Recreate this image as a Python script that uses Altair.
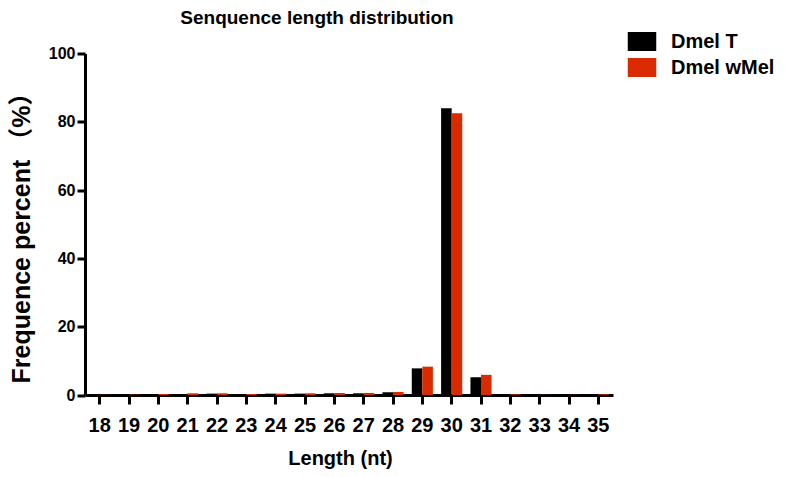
import altair as alt
import pandas as pd

lengths = [str(v) for v in range(18, 36)]
dmel_t = [0.05, 0.1, 0.2, 0.3, 0.4, 0.3, 0.4, 0.4, 0.5, 0.5, 0.8, 7.8, 84.0, 5.2, 0.3, 0.1, 0.05, 0.05]
dmel_wmel = [0.05, 0.1, 0.3, 0.5, 0.5, 0.3, 0.4, 0.5, 0.6, 0.6, 0.9, 8.3, 82.5, 5.9, 0.2, 0.05, 0.05, 0.2]
series = ["Dmel T", "Dmel wMel"]
colors = ["#000000", "#D92A00"]

rows = []
for i, L in enumerate(lengths):
    rows.append({"Length": L, "Group": series[0], "Percent": dmel_t[i]})
    rows.append({"Length": L, "Group": series[1], "Percent": dmel_wmel[i]})
df = pd.DataFrame(rows)

FONT = "Liberation Sans, Arial, Noto Sans CJK SC"

chart = alt.Chart(df).mark_bar().encode(
    x=alt.X("Length:N", sort=lengths,
            scale=alt.Scale(paddingInner=0.28, paddingOuter=0.14),
            axis=alt.Axis(title="Length (nt)", labelAngle=0, labelFontSize=20,
                          labelFontWeight="bold", labelFont=FONT, labelColor="black",
                          labelPadding=11, labelOverlap=False,
                          tickSize=9, tickWidth=3, tickColor="black",
                          domainWidth=3, domainColor="black",
                          titleFontSize=20, titleFontWeight="bold", titleFont=FONT,
                          titleColor="black", titleX=255, titleY=69,
                          titleBaseline="alphabetic", titleAlign="center")),
    xOffset=alt.XOffset("Group:N", sort=series,
                        scale=alt.Scale(paddingInner=0, paddingOuter=0)),
    y=alt.Y("Percent:Q", scale=alt.Scale(domain=[0, 100], nice=False),
            axis=alt.Axis(title="Frequence percent （%）", values=[0, 20, 40, 60, 80, 100],
                          grid=False, labelFontSize=16, labelFontWeight="bold",
                          labelFont=FONT, labelColor="black", labelPadding=2,
                          tickSize=8, tickWidth=3, tickColor="black",
                          domainWidth=3, domainColor="black",
                          titleFontSize=25, titleFontWeight="bold", titleFont=FONT,
                          titleColor="black", titleAngle=270, titleX=-64, titleY=178,
                          titleAlign="center", titleBaseline="middle")),
    color=alt.Color("Group:N", sort=series,
                    scale=alt.Scale(domain=series, range=colors),
                    legend=alt.Legend(title=None, orient="none", legendX=547, legendY=-22,
                                      symbolType="M-1.5,-1L1.5,-1L1.5,1L-1.5,1Z",
                                      symbolSize=361, symbolStrokeWidth=0,
                                      symbolOpacity=1,
                                      labelFontSize=20, labelFontWeight="bold",
                                      labelFont=FONT, labelColor="black",
                                      labelOffset=19, rowPadding=6, padding=0)),
).properties(
    width=528,
    height=341.5,
    title=alt.Title("Senquence length distribution", fontSize=19, fontWeight="bold",
                    font=FONT, color="black", anchor="middle", dx=-32, offset=14,
                    dy=25, baseline="alphabetic"),
    autosize=alt.AutoSizeParams(type="none"),
    padding={"left": 77, "top": 45.5, "right": 166, "bottom": 74},
).configure_view(stroke=None)

chart.save("out.html", embed_options={"renderer": "svg", "actions": False})
